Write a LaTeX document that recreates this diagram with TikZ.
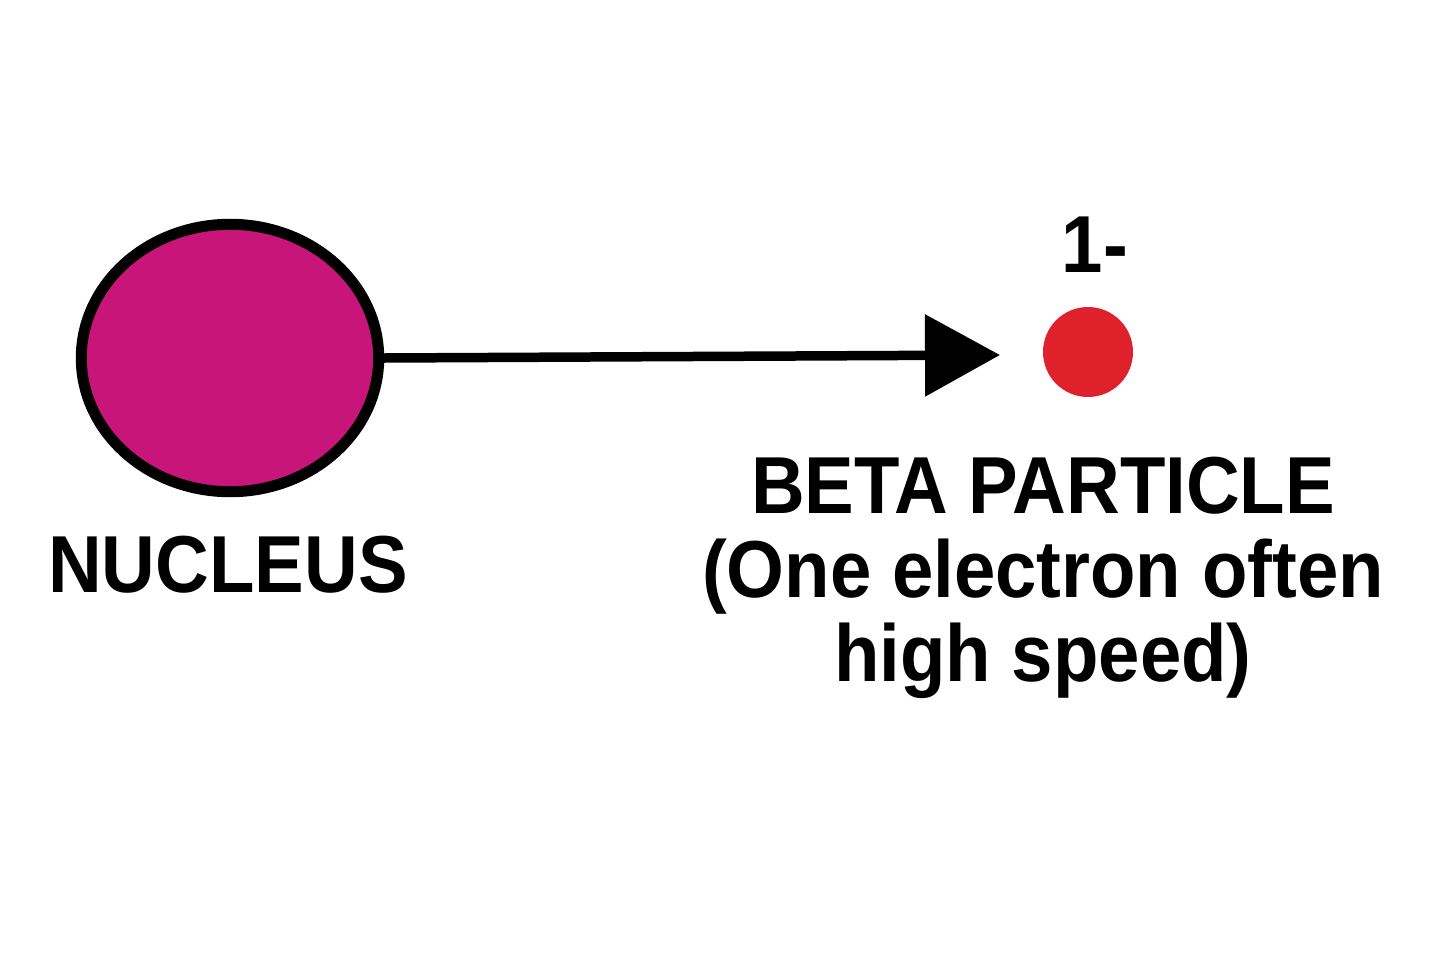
\documentclass[tikz,border=0pt]{standalone}
\usepackage{fontspec}
\setmainfont{Liberation Sans}
\usetikzlibrary{arrows.meta,shapes.geometric}
\definecolor{nuc}{HTML}{C8157A}
\definecolor{beta}{HTML}{E0202A}
\tikzset{lbl/.style={font=\fontsize{46}{48}\selectfont\bfseries, xscale=0.92, align=center, inner sep=0pt}}
\begin{document}
\begin{tikzpicture}[x=0.02cm,y=-0.02cm]
\useasboundingbox[fill=white] (0,0) rectangle (1440,960);
\node (nucleus) [ellipse, draw=black, line width=0.22cm, fill=nuc, minimum width=5.95cm, minimum height=5.35cm, inner sep=0pt] at (230,358) {};
\node (electron) [circle, fill=beta, minimum size=1.8cm, inner sep=0pt] at (1088,352) {};
\coordinate (tip) at (1000,355);
\draw[line width=0.19cm, -{Triangle[length=1.5cm,width=1.6cm]}] (nucleus.east) -- (tip);
\node[lbl] (charge) at (1095,245) {1-};
\node[lbl] (nlabel) at (228,565) {NUCLEUS};
\node[lbl, font=\fontsize{46}{48}\selectfont\bfseries] (blabel) at (1043,578) {BETA PARTICLE\\(One electron often\\high speed)};
\end{tikzpicture}
\end{document}
